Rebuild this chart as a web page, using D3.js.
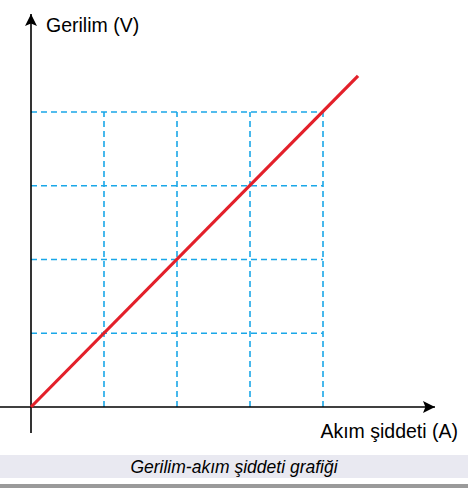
<!DOCTYPE html>
<html><head><meta charset="utf-8">
<script src="https://cdn.jsdelivr.net/npm/d3@7"></script>
<style>body{margin:0;background:#fff}svg{display:block;font-family:"Liberation Sans",Arial,sans-serif}</style>
</head><body>
<script>
const gridTicks = [1, 2, 3, 4];
const current = [0, 4.48];
const voltage = [0, 4.49];
const xLabel = "Akım şiddeti (A)";
const yLabel = "Gerilim (V)";
const caption = "Gerilim-akım şiddeti grafiği";

const w = 468, h = 488;
const x = d3.scaleLinear().domain([0, 4]).range([31, 323]);
const y = d3.scaleLinear().domain([0, 4]).range([407, 112]);
const svg = d3.select("body").append("svg").attr("width", w).attr("height", h);

svg.append("defs").append("marker").attr("id", "arr")
  .attr("viewBox", "0 0 10 10").attr("refX", 10).attr("refY", 5)
  .attr("markerWidth", 12).attr("markerHeight", 12).attr("markerUnits", "userSpaceOnUse")
  .attr("orient", "auto")
  .append("path").attr("d", "M0,0L10,5L0,10L2,5Z").attr("fill", "#000");

// grid
const grid = svg.append("g").attr("stroke", "#1aa7e8").attr("stroke-width", 1.6).attr("stroke-dasharray", "6,4");
grid.selectAll(".v").data(gridTicks).enter().append("line")
  .attr("x1", d => x(d)).attr("x2", d => x(d)).attr("y1", y(0)).attr("y2", y(4));
grid.selectAll(".h").data(gridTicks).enter().append("line")
  .attr("x1", x(0)).attr("x2", x(4)).attr("y1", d => y(d)).attr("y2", d => y(d));

// axes
svg.append("line").attr("x1", 0).attr("x2", 435).attr("y1", y(0)).attr("y2", y(0))
  .attr("stroke", "#000").attr("stroke-width", 1.6).attr("marker-end", "url(#arr)");
svg.append("line").attr("x1", x(0)).attr("x2", x(0)).attr("y1", 433).attr("y2", 14)
  .attr("stroke", "#000").attr("stroke-width", 1.6).attr("marker-end", "url(#arr)");

svg.append("text").attr("x", 46).attr("y", 32).attr("font-size", 19.5).text(yLabel);
svg.append("text").attr("x", 458).attr("y", 438).attr("font-size", 19.5).attr("text-anchor", "end").text(xLabel);

// line
svg.append("path").datum(d3.zip(current, voltage))
  .attr("d", d3.line().x(d => x(d[0])).y(d => y(d[1])))
  .attr("stroke", "#e3202a").attr("stroke-width", 3.2).attr("fill", "none");

// caption
svg.append("rect").attr("x", 0).attr("y", 455).attr("width", w).attr("height", 23).attr("fill", "#e9e9f1");
svg.append("text").attr("x", 234).attr("y", 473).attr("text-anchor", "middle")
  .attr("font-size", 17.5).attr("font-style", "italic").text(caption);
svg.append("rect").attr("x", 0).attr("y", 484).attr("width", w).attr("height", 4).attr("fill", "#9a9a9a");
</script>
</body></html>
